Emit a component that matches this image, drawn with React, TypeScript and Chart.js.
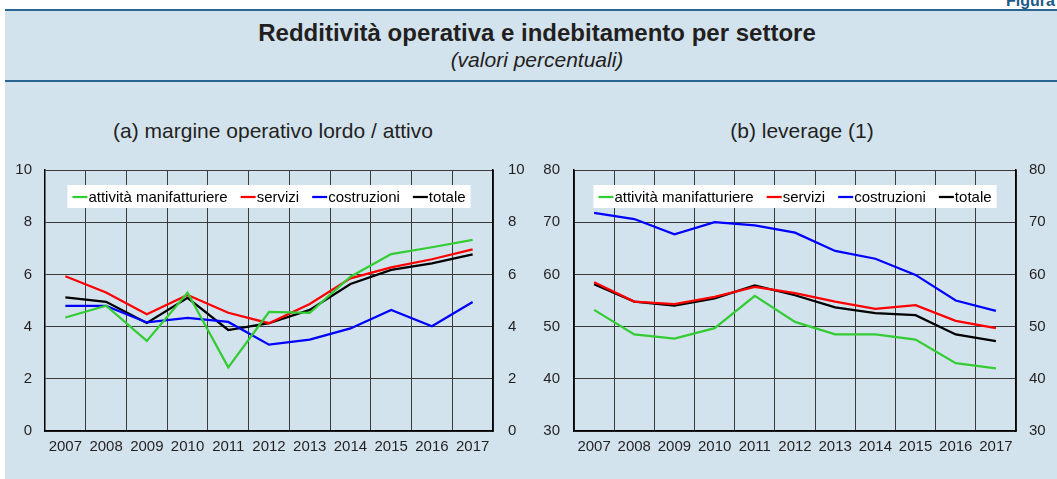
import React, { useEffect, useRef } from "react";
import { Chart, registerables } from "chart.js";

Chart.register(...registerables);

const years = ["2007", "2008", "2009", "2010", "2011", "2012", "2013", "2014", "2015", "2016", "2017"];
const seriesLabels = ["attività manifatturiere", "servizi", "costruzioni", "totale"];
const seriesColors = ["#33cc33", "#ff0000", "#0000ff", "#000000"];

// (a) margine operativo lordo / attivo
const molManif = [4.35, 4.8, 3.45, 5.3, 2.44, 4.56, 4.53, 5.91, 6.78, 7.04, 7.32];
const molServizi = [5.93, 5.31, 4.47, 5.21, 4.53, 4.13, 4.87, 5.85, 6.27, 6.58, 6.96];
const molCostruzioni = [4.79, 4.79, 4.16, 4.33, 4.18, 3.31, 3.5, 3.93, 4.64, 4.01, 4.94];
const molTotale = [5.12, 4.95, 4.14, 5.1, 3.87, 4.13, 4.64, 5.63, 6.17, 6.42, 6.77];

// (b) leverage
const levManif = [53.2, 48.5, 47.7, 49.7, 55.9, 50.9, 48.5, 48.5, 47.5, 43.0, 42.0];
const levServizi = [58.5, 54.8, 54.3, 55.7, 57.6, 56.4, 54.8, 53.4, 54.1, 51.1, 49.7];
const levCostruzioni = [71.8, 70.6, 67.7, 70.0, 69.4, 68.0, 64.5, 63.0, 59.9, 55.0, 53.0];
const levTotale = [58.1, 54.8, 54.0, 55.4, 57.9, 56.0, 53.7, 52.6, 52.2, 48.5, 47.2];

const molRange = { min: 0, max: 10, step: 2 };
const levRange = { min: 30, max: 80, step: 10 };

const FONT = '"Liberation Sans", Arial, Helvetica, sans-serif';
const TEXT = "#231f20";

const insideLegend = {
  id: "insideLegend",
  afterDraw(chart: any) {
    const ctx = chart.ctx;
    const area = chart.chartArea;
    ctx.save();
    ctx.font = `15px ${FONT}`;
    const items = chart.data.datasets.map((d: any) => ({
      label: d.label,
      color: d.borderColor,
      w: ctx.measureText(d.label).width,
    }));
    const lineLen = 15;
    const gapText = 1;
    const gapItem = 13;
    const total =
      items.reduce((s: number, it: any) => s + lineLen + gapText + it.w, 0) + gapItem * (items.length - 1);
    let x = (area.left + area.right) / 2 - total / 2;
    const y = area.top + 27;
    ctx.fillStyle = "#ffffff";
    ctx.fillRect(x - 5, area.top + 15, total + 10, 23);
    ctx.textBaseline = "middle";
    ctx.textAlign = "left";
    for (const it of items) {
      ctx.strokeStyle = it.color;
      ctx.lineWidth = 2.25;
      ctx.beginPath();
      ctx.moveTo(x, y);
      ctx.lineTo(x + lineLen, y);
      ctx.stroke();
      ctx.fillStyle = "#000";
      ctx.fillText(it.label, x + lineLen + gapText, y + 1);
      x += lineLen + gapText + it.w + gapItem;
    }
    ctx.restore();
  },
};

type Props = {
  values: number[][];
  range: { min: number; max: number; step: number };
  width: number;
  height: number;
  leftW: number;
  rightW: number;
  leftPad: number;
  rightPad: number;
};

function LineChart({ values, range, width, height, leftW, rightW, leftPad, rightPad }: Props) {
  const ref = useRef<HTMLCanvasElement>(null);
  useEffect(() => {
    if (!ref.current) return;
    const tickFont = { family: FONT, size: 15 };
    const chart = new Chart(ref.current, {
      type: "line",
      data: {
        labels: years,
        datasets: values.map((v, i) => ({
          label: seriesLabels[i],
          data: v,
          borderColor: seriesColors[i],
          backgroundColor: seriesColors[i],
          borderWidth: 2.25,
          pointRadius: 0,
          tension: 0,
          fill: false,
        })),
      },
      options: {
        responsive: false,
        animation: false,
        devicePixelRatio: 1,
        layout: { padding: 0 },
        plugins: { legend: { display: false }, tooltip: { enabled: false } },
        scales: {
          x: {
            offset: true,
            grid: { offset: true, drawTicks: false, color: "#3a3a3a", lineWidth: 1 },
            border: { color: "#000", width: 1.5 },
            ticks: { font: tickFont, color: TEXT, padding: 7, maxRotation: 0, autoSkip: false },
            afterFit(s: any) {
              s.height = 29;
            },
          },
          y: {
            position: "left",
            min: range.min,
            max: range.max,
            grid: { drawTicks: false, color: "#3a3a3a", lineWidth: 1 },
            border: { color: "#000", width: 1.5 },
            ticks: { stepSize: range.step, font: tickFont, color: TEXT, padding: leftPad },
            afterFit(s: any) {
              s.width = leftW;
            },
          },
          y2: {
            position: "right",
            min: range.min,
            max: range.max,
            grid: { drawTicks: false, drawOnChartArea: false },
            border: { color: "#000", width: 1.5 },
            ticks: { stepSize: range.step, font: tickFont, color: TEXT, padding: rightPad },
            afterFit(s: any) {
              s.width = rightW;
            },
          },
        },
      },
      plugins: [insideLegend],
    } as any);
    return () => chart.destroy();
  }, []);
  return <canvas ref={ref} width={width} height={height} style={{ width, height, display: "block" }} />;
}

export default function App() {
  const abs = (o: React.CSSProperties): React.CSSProperties => ({ position: "absolute", ...o });
  return (
    <div
      style={{
        position: "fixed",
        left: 0,
        top: 0,
        width: 1057,
        height: 479,
        background: "#ffffff",
        overflow: "hidden",
        fontFamily: FONT,
        color: TEXT,
      }}
    >
      <div style={abs({ left: 1006, top: -8, fontSize: 16, fontWeight: "bold", color: "#1d5a86", whiteSpace: "nowrap" })}>
        Figura 2.9
      </div>
      <div style={abs({ left: 5, top: 10, right: 0, bottom: 0, background: "#d3e3ee" })} />
      <div style={abs({ left: 5, top: 9, right: 0, height: 2, background: "#2a6590" })} />
      <div style={abs({ left: 5, top: 80, right: 0, height: 2, background: "#2a6590" })} />
      <div
        style={abs({
          left: 537,
          top: 19,
          transform: "translateX(-50%)",
          fontSize: 24,
          lineHeight: "28px",
          fontWeight: "bold",
          whiteSpace: "nowrap",
        })}
      >
        Redditività operativa e indebitamento per settore
      </div>
      <div
        style={abs({
          left: 537,
          top: 48,
          transform: "translateX(-50%)",
          fontSize: 21,
          lineHeight: "24px",
          fontStyle: "italic",
          whiteSpace: "nowrap",
        })}
      >
        (valori percentuali)
      </div>
      <div style={abs({ left: 273, top: 119, transform: "translateX(-50%)", fontSize: 21, lineHeight: "24px", whiteSpace: "nowrap" })}>
        (a) margine operativo lordo / attivo
      </div>
      <div style={abs({ left: 802, top: 119, transform: "translateX(-50%)", fontSize: 21, lineHeight: "24px", whiteSpace: "nowrap" })}>
        (b) leverage (1)
      </div>
      <div style={abs({ left: 0, top: 146 })}>
        <LineChart
          values={[molManif, molServizi, molCostruzioni, molTotale]}
          range={molRange}
          width={528}
          height={314}
          leftW={45}
          rightW={35}
          leftPad={13}
          rightPad={15}
        />
      </div>
      <div style={abs({ left: 528, top: 147 })}>
        <LineChart
          values={[levManif, levServizi, levCostruzioni, levTotale]}
          range={levRange}
          width={529}
          height={313}
          leftW={46}
          rightW={41}
          leftPad={14}
          rightPad={13}
        />
      </div>
    </div>
  );
}
